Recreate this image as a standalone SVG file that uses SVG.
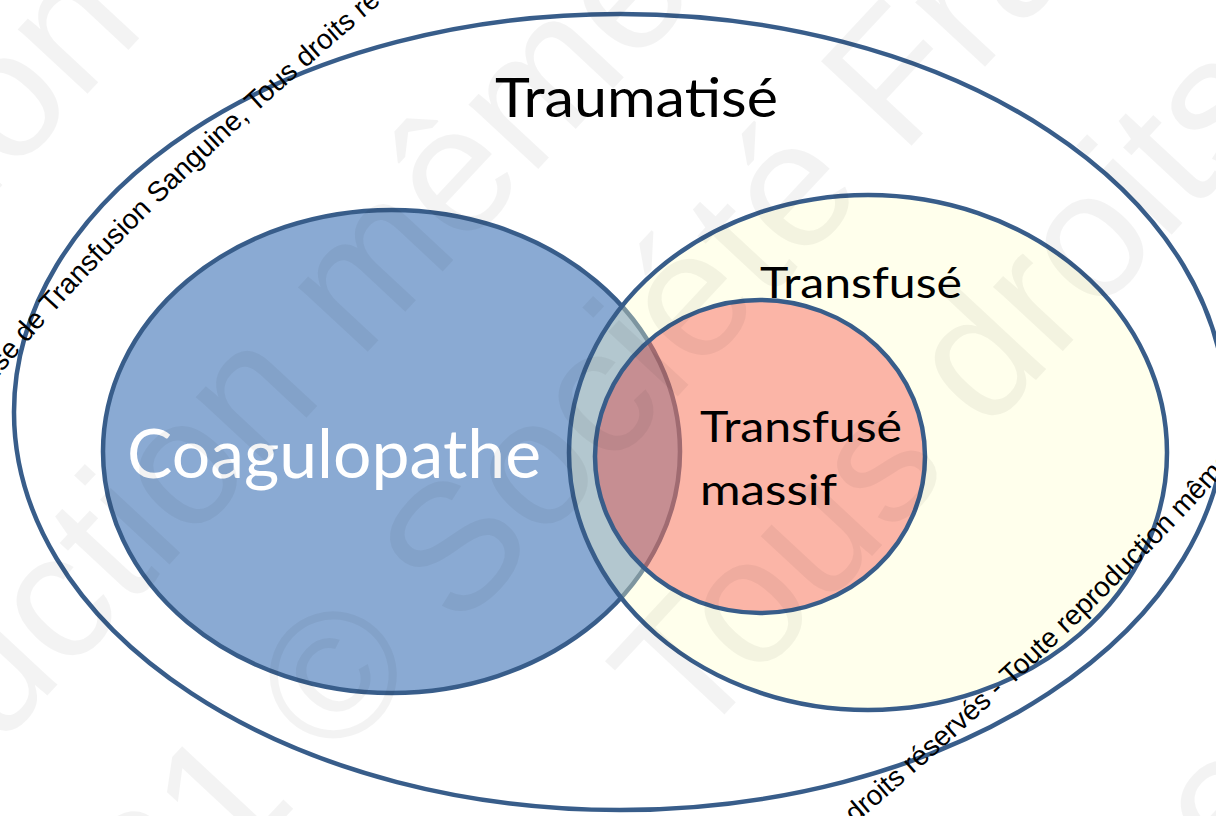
<svg xmlns="http://www.w3.org/2000/svg" width="1216" height="816" viewBox="0 0 1216 816">
<defs>
<style>
.outline{stroke:#385d8a;stroke-width:4.5}
.lbl{font-family:Lato,Carlito,"Open Sans","Liberation Sans",sans-serif;fill:#000}
.small{font-family:"Liberation Sans",Arial,sans-serif;font-size:28px;fill:#000}
.wm{font-family:"Liberation Sans",Arial,sans-serif;font-size:180px;fill:#000;fill-opacity:0.048}
</style>
<path id="arcA" d="M -263,715 L -20,400 Q 115,225 420,-30" fill="none"/>
<path id="arcB" d="M 294,1295 L 830,845 Q 1080,635 1240,455" fill="none"/>
</defs>
<rect width="1216" height="816" fill="#ffffff"/>
<g id="traumatise">
<ellipse cx="620" cy="412" rx="606" ry="398" fill="#ffffff" class="outline"/>
<text class="lbl" x="495" y="117" font-size="54" textLength="283" lengthAdjust="spacingAndGlyphs">Traumatisé</text>
</g>
<g id="coagulopathe">
<ellipse cx="391.5" cy="451.5" rx="288.5" ry="241.5" fill="#8aaad3" class="outline"/>
<text class="lbl" x="127" y="478" font-size="68" textLength="414" lengthAdjust="spacingAndGlyphs" style="fill:#ffffff">Coagulopathe</text>
</g>
<g id="transfuse">
<ellipse cx="868" cy="452.5" rx="299" ry="257.5" fill="#ffffc8" fill-opacity="0.35" class="outline"/>
<text class="lbl" x="760" y="298" font-size="43" textLength="202" lengthAdjust="spacingAndGlyphs">Transfusé</text>
</g>
<g id="transfuse-massif">
<ellipse cx="760" cy="456.5" rx="165" ry="156.5" fill="#f20a06" fill-opacity="0.3" class="outline"/>
<text class="lbl" x="700" y="442" font-size="43" textLength="202" lengthAdjust="spacingAndGlyphs">Transfusé</text>
<text class="lbl" x="700" y="505" font-size="43" textLength="137" lengthAdjust="spacingAndGlyphs">massif</text>
</g>
<g id="connectors"></g>
<g id="copyright-arcs">
<text class="small"><textPath href="#arcA" startOffset="239">Société Française de Transfusion Sanguine, Tous droits réservés - Toute reproduction même partielle interdite</textPath></text>
<text class="small"><textPath href="#arcB" startOffset="108">Société Française de Transfusion Sanguine, Tous droits réservés - Toute reproduction même partielle interdite</textPath></text>
</g>
<g id="watermark" transform="rotate(-47)">
<text class="wm" x="-855" y="128">Transfusion Sanguine</text>
<text class="wm" x="-1560" y="509">Toute reproduction même partielle interdite</text>
<text class="wm" x="-783" y="766">2021 © Société Française de Transfusion Sanguine</text>
<text class="wm" x="-75" y="1017">Tous droits réservés</text>
<text class="wm" x="297" y="1498" text-anchor="end">Toute reproduction même</text>
</g>
</svg>
